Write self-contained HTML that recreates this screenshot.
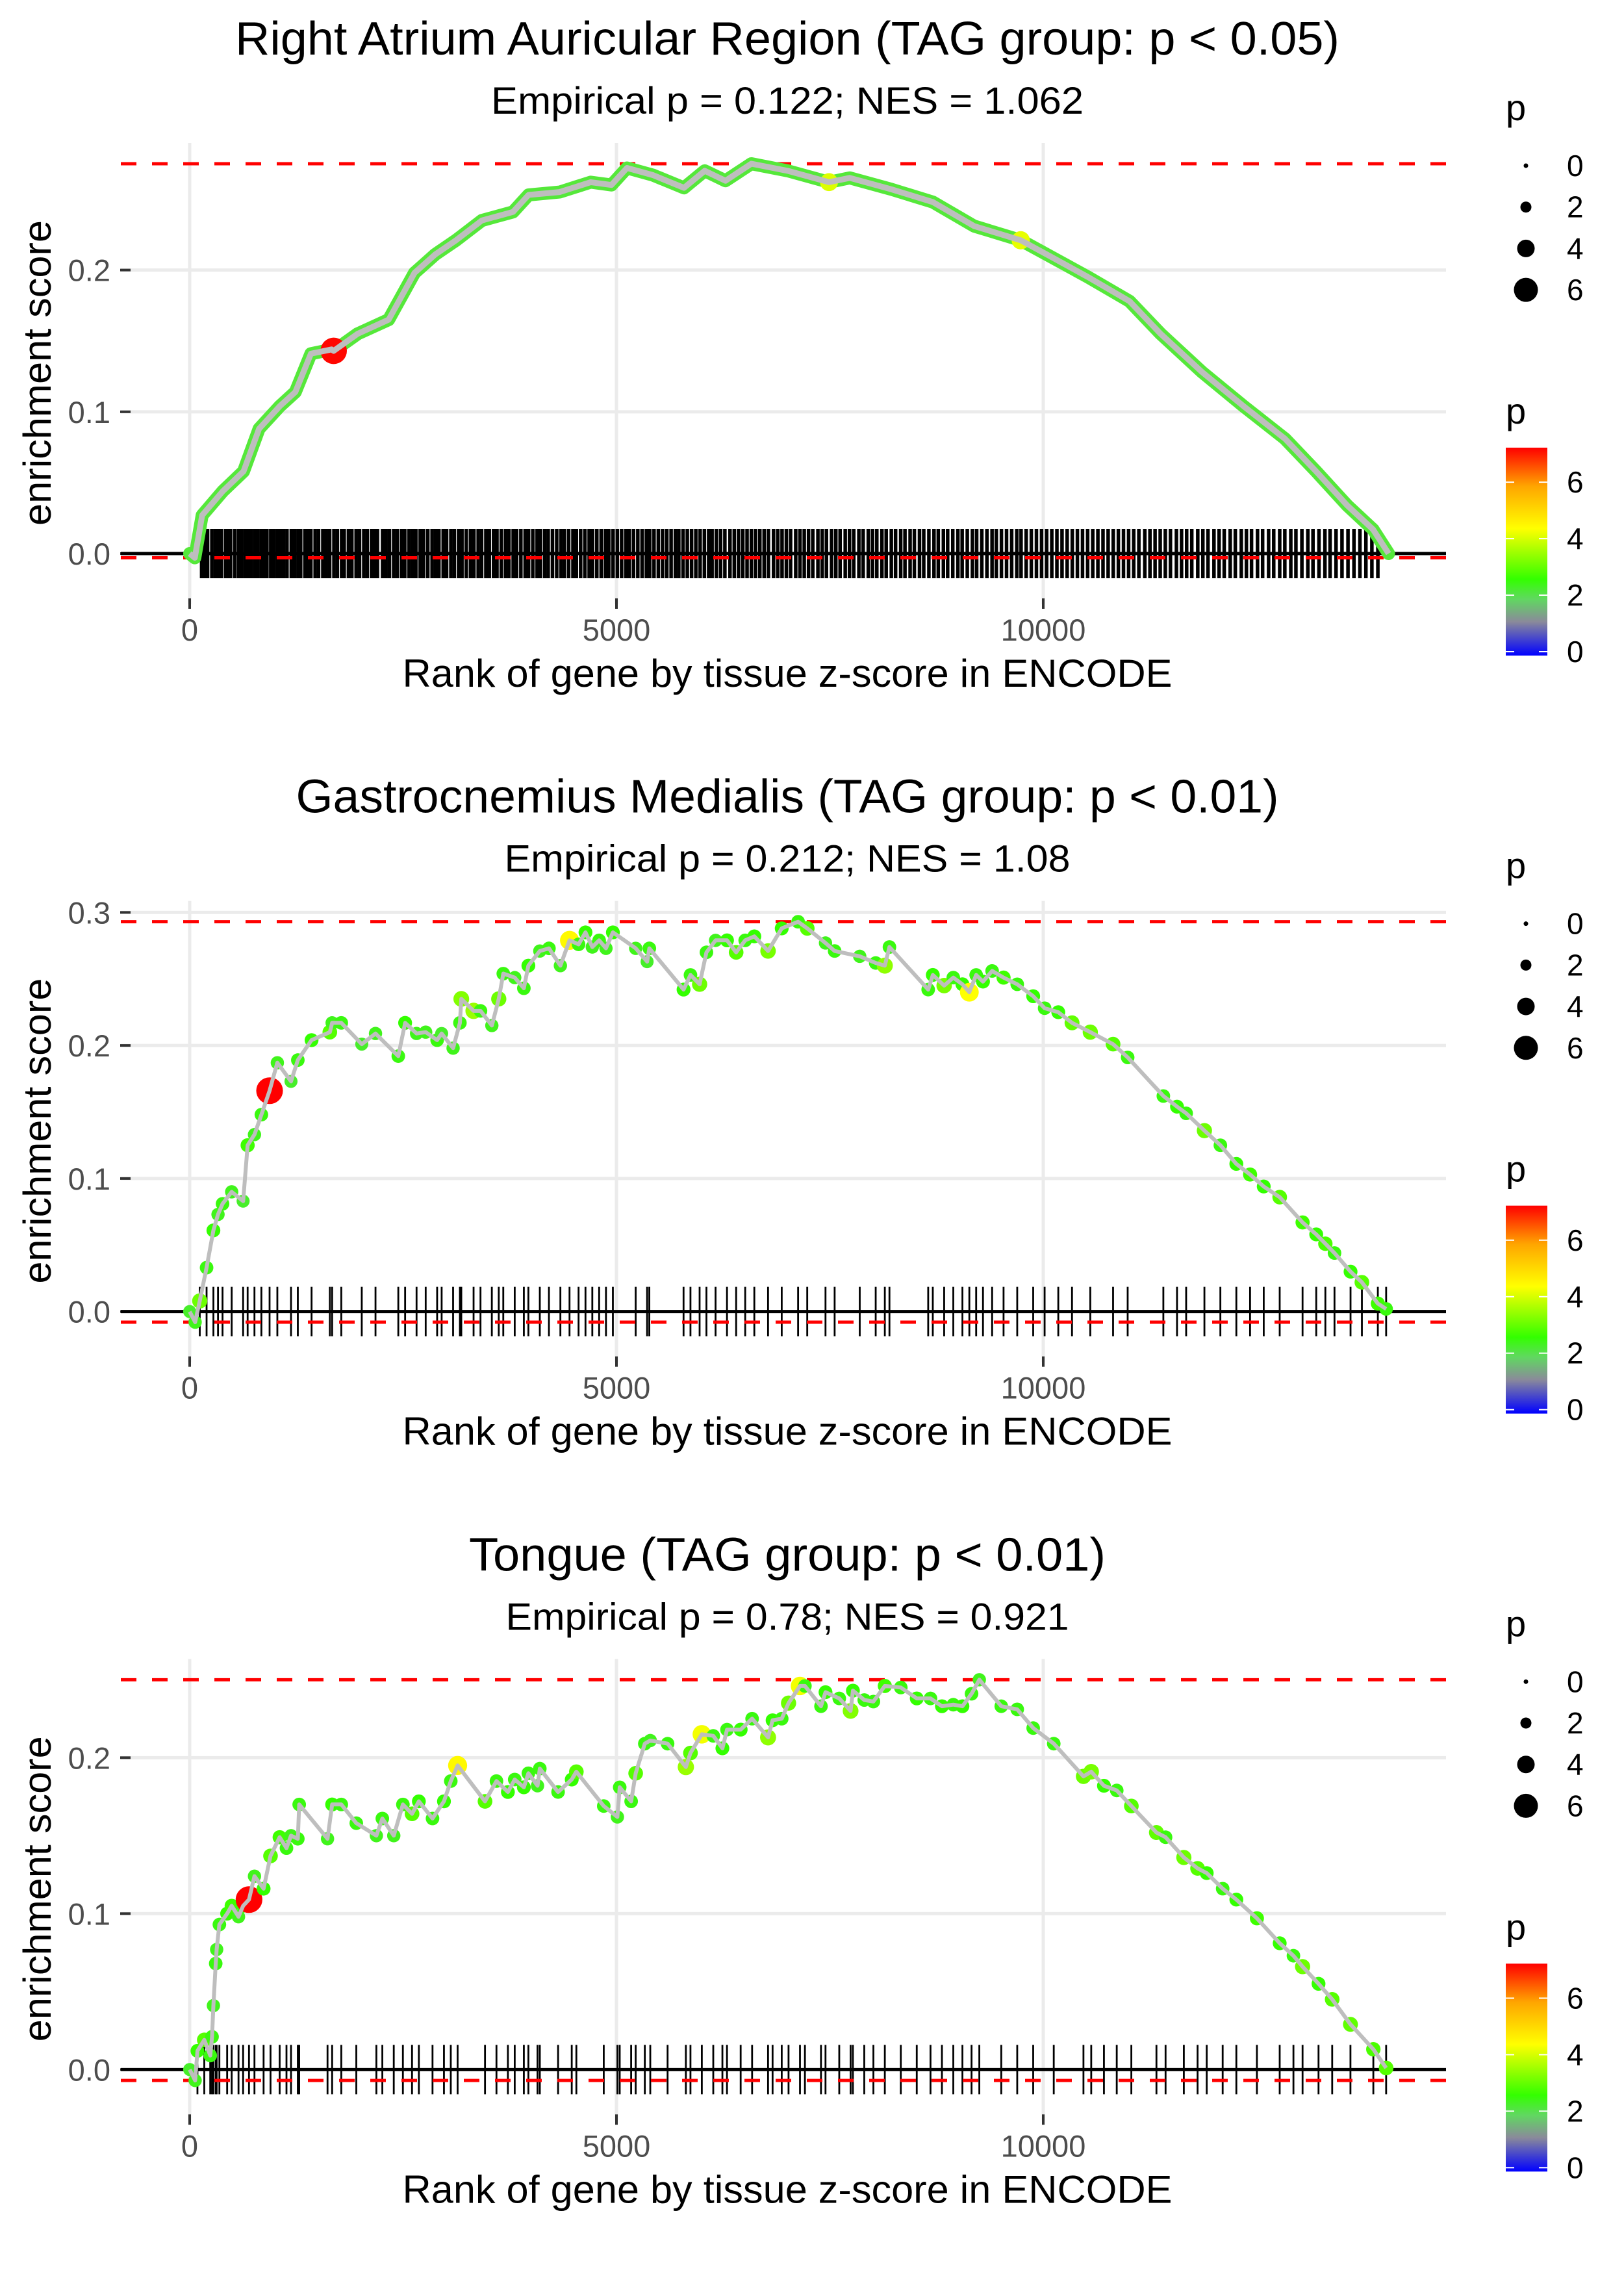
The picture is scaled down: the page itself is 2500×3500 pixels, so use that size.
<!DOCTYPE html>
<html><head><meta charset="utf-8">
<style>
html,body{margin:0;padding:0;background:#fff;}
svg{display:block;font-family:"Liberation Sans",Arial,sans-serif;}
</style></head>
<body>
<svg id="chart" width="2500" height="3500" viewBox="0 0 2500 3500" xmlns="http://www.w3.org/2000/svg">
<defs>
<linearGradient id="pgrad" x1="0" y1="1" x2="0" y2="0"></linearGradient>
</defs>
</svg>
<script>
// ---------- data ----------
const titles = ["Right Atrium Auricular Region (TAG group: p < 0.05)","Gastrocnemius Medialis (TAG group: p < 0.01)","Tongue (TAG group: p < 0.01)"];
const subtitles = ["Empirical p = 0.122; NES = 1.062","Empirical p = 0.212; NES = 1.08","Empirical p = 0.78; NES = 0.921"];
const xTicks = [0,5000,10000];
const xTickLabels = ["0","5000","10000"];
const yTicks1 = [0,0.1,0.2];
const yTicks2 = [0,0.1,0.2,0.3];
const yTicks3 = [0,0.1,0.2];
const yTickLabels1 = ["0.0","0.1","0.2"];
const yTickLabels2 = ["0.0","0.1","0.2","0.3"];
const yTickLabels3 = ["0.0","0.1","0.2"];
const sizeLegendValues = [0,2,4,6];
const colorLegendValues = [0,2,4,6];

const rank1 = [0,60,146,388,631,813,1056,1238,1420,1663,1687,1967,2331,2634,2877,3120,3423,3788,3970,4334,4698,4941,5123,5427,5791,6034,6277,6580,7005,7490,7733,8219,8705,9190,9736,10040,10525,11011,11375,11861,12346,12832,13196,13560,13864,14046];
const es1 = [0,-0.003,0.027,0.044,0.058,0.088,0.104,0.114,0.141,0.144,0.143,0.155,0.165,0.198,0.211,0.221,0.235,0.241,0.253,0.255,0.262,0.260,0.272,0.267,0.258,0.270,0.263,0.275,0.270,0.262,0.265,0.257,0.248,0.231,0.221,0.211,0.195,0.178,0.155,0.128,0.104,0.081,0.058,0.034,0.017,0];
const p1 = [2.5,2.5,2.6,2.6,2.5,2.7,2.6,2.5,2.7,2.6,7.3,2.6,2.7,2.5,2.7,3.2,2.6,2.7,2.6,2.5,2.7,2.6,2.8,2.6,2.7,2.6,2.8,2.7,2.6,4.2,2.6,2.7,2.6,2.7,4.3,2.6,2.7,2.6,3.4,2.7,2.6,2.6,2.7,3.2,2.6,2.5];
const rug1 = [140,175,210,260,300,330,370,420,455,480,530,575,610,650,690,720,760,800,840,870,905,950,990,1030,1060,1100,1140,1190,1230,1270,1300,1350,1390,1420,1470,1510,1560,1600,1640,1690,1730,1780,1810,1860,1900,1950,1990,2040,2080,2130,2170,2200,2260,2300,2340,2390,2430,2480,2520,2570,2610,2650,2700,2740,2790,2840,2880,2920,2970,3010,3060,3100,3150,3190,3240,3290,3330,3380,3420,3470,3510,3560,3600,3650,3700,3740,3790,3830,3880,3930,3970,4020,4070,4110,4160,4200,4250,4300,4350,4390,4440,4490,4530,4580,4630,4680,4720,4770,4820,4870,4910,4960,5010,5060,5110,5150,5200,5250,5300,5350,5390,5440,5490,5540,5590,5640,5690,5730,5780,5830,5880,5930,5980,6030,6080,6120,6170,6220,6270,6330,6380,6430,6480,6530,6580,6630,6680,6730,6780,6840,6890,6940,6990,7040,7100,7150,7200,7250,7300,7360,7410,7460,7520,7570,7620,7680,7730,7780,7840,7890,7950,8000,8050,8110,8160,8220,8270,8330,8380,8440,8490,8550,8600,8660,8720,8770,8830,8880,8940,9000,9050,9110,9170,9220,9280,9340,9400,9450,9510,9570,9630,9690,9740,9800,9860,9920,9980,10040,10100,10160,10220,10280,10340,10400,10460,10520,10580,10640,10700,10760,10820,10880,10940,11000,11060,11120,11190,11250,11310,11370,11430,11490,11560,11620,11680,11740,11810,11870,11930,12000,12060,12120,12190,12250,12320,12380,12440,12510,12570,12640,12700,12770,12830,12900,12960,13030,13100,13160,13230,13300,13360,13430,13500,13570,13640,13710,13780,13850,13920];

const rank2 = [0,64,118,198,278,332,385,492,626,679,759,840,936,1027,1187,1267,1428,1642,1669,1776,2016,2177,2444,2524,2658,2765,2899,2952,3086,3166,3182,3326,3407,3540,3621,3674,3808,3915,3968,4102,4209,4343,4450,4556,4637,4717,4797,4877,4958,5225,5359,5385,5786,5867,5974,6054,6161,6295,6402,6508,6615,6776,6936,7128,7235,7449,7556,7850,8037,8144,8198,8652,8706,8839,8946,9053,9134,9214,9294,9401,9535,9695,9882,10016,10176,10337,10551,10818,10989,11407,11567,11674,11888,12075,12262,12423,12583,12770,13038,13198,13305,13412,13600,13733,13920,14017];
const es2 = [0,-0.008,0.008,0.033,0.061,0.073,0.081,0.090,0.083,0.125,0.133,0.148,0.166,0.187,0.173,0.189,0.204,0.210,0.217,0.217,0.201,0.209,0.192,0.217,0.209,0.210,0.204,0.209,0.198,0.217,0.235,0.226,0.226,0.215,0.235,0.254,0.251,0.243,0.260,0.271,0.273,0.260,0.279,0.276,0.285,0.274,0.279,0.273,0.285,0.273,0.263,0.273,0.242,0.253,0.246,0.270,0.279,0.279,0.270,0.279,0.282,0.271,0.288,0.293,0.288,0.277,0.271,0.267,0.262,0.260,0.274,0.242,0.253,0.245,0.251,0.246,0.240,0.253,0.248,0.256,0.251,0.246,0.237,0.228,0.225,0.217,0.210,0.201,0.191,0.162,0.154,0.149,0.136,0.125,0.111,0.103,0.094,0.086,0.067,0.058,0.051,0.044,0.030,0.022,0.006,0.002];
const p2 = [2.4,2.5,3.2,2.6,2.7,2.5,2.6,2.5,2.4,2.8,2.5,2.6,7.4,2.5,2.4,2.6,2.7,3.0,2.5,2.6,2.4,2.5,2.6,2.7,2.5,2.5,2.6,2.4,2.5,2.6,3.4,3.6,2.6,2.5,3.2,2.6,2.5,2.6,2.7,2.5,2.6,2.5,4.6,2.6,2.7,2.5,2.6,2.5,2.7,2.5,2.4,2.6,2.7,2.6,3.2,2.6,2.5,2.7,3.0,2.6,2.7,3.3,2.7,2.6,3.0,2.5,2.6,2.5,2.6,3.5,2.6,2.6,2.7,3.3,2.6,2.7,4.5,2.6,2.7,2.6,2.8,2.6,2.7,2.6,2.7,3.1,3.2,3.0,2.6,2.6,2.7,2.6,3.2,2.6,2.7,2.8,2.7,3.0,2.8,2.7,2.9,2.6,2.7,3.0,2.8,2.6];
const rug2 = rank2.slice(2);

const rank3 = [0,64,91,171,241,262,278,305,316,348,439,492,572,626,695,759,866,947,1054,1134,1187,1267,1283,1615,1669,1776,1952,2187,2257,2391,2498,2605,2685,2845,2979,3059,3139,3460,3594,3728,3808,3915,3968,4075,4102,4316,4476,4530,4851,5011,5038,5172,5225,5332,5396,5599,5813,5867,6000,6134,6241,6295,6455,6589,6776,6829,6936,7016,7150,7208,7396,7449,7610,7743,7770,7903,8010,8144,8331,8518,8679,8813,8946,9053,9160,9251,9508,9695,9882,10123,10471,10562,10711,10861,11032,11326,11433,11647,11808,11915,12102,12262,12503,12770,12931,13038,13225,13385,13599,13867,14017];
const es3 = [0,-0.007,0.012,0.019,0.009,0.021,0.041,0.068,0.077,0.093,0.100,0.105,0.098,0.105,0.109,0.124,0.116,0.137,0.149,0.142,0.150,0.148,0.170,0.148,0.170,0.170,0.158,0.150,0.161,0.150,0.170,0.164,0.172,0.161,0.172,0.185,0.195,0.172,0.185,0.178,0.186,0.181,0.190,0.182,0.193,0.178,0.186,0.191,0.169,0.162,0.181,0.172,0.190,0.209,0.211,0.209,0.194,0.203,0.215,0.214,0.206,0.218,0.218,0.225,0.213,0.224,0.225,0.235,0.246,0.246,0.233,0.242,0.238,0.230,0.243,0.237,0.236,0.246,0.245,0.238,0.238,0.233,0.234,0.233,0.241,0.250,0.233,0.231,0.219,0.209,0.188,0.191,0.182,0.179,0.169,0.152,0.149,0.136,0.129,0.126,0.116,0.109,0.097,0.081,0.073,0.066,0.055,0.045,0.029,0.013,0.001];
const p3 = [2.4,2.5,2.7,3.0,2.6,2.6,2.5,2.6,2.5,2.6,2.7,2.8,2.5,2.6,7.4,2.5,2.7,3.0,2.8,2.6,2.5,2.6,2.6,2.5,2.7,2.6,2.6,2.5,2.6,2.5,2.6,3.0,2.7,2.6,2.7,2.6,4.6,3.0,2.6,2.7,2.6,2.7,2.6,2.5,2.6,2.6,2.7,3.0,2.6,2.5,2.6,2.6,3.0,2.6,2.5,2.6,3.6,3.0,4.4,2.6,2.7,2.6,2.7,2.6,3.5,2.7,2.6,3.2,4.4,2.6,2.6,2.7,2.6,3.4,2.7,2.6,2.6,2.8,2.6,2.7,2.6,2.7,2.6,2.7,2.6,2.5,2.6,2.6,2.6,2.6,3.2,3.3,2.7,2.6,3.0,3.1,2.6,3.2,3.0,2.7,2.6,2.7,2.8,2.7,2.6,3.2,2.7,3.0,3.1,2.9,3.0];
const rug3 = rank3.slice(2);

// ---------- layout ----------
const svg = document.getElementById('chart');
const NS = 'http://www.w3.org/2000/svg';
const PX0 = 186, PX1 = 2226;
const X0 = 292, PXPER = 657/5000;
const titleLen = [1700, 1513, 980];
const subLen = [912, 871, 867];
function xScale(r){ return X0 + r*PXPER; }
function mk(tag, attrs, parent){
  const e = document.createElementNS(NS, tag);
  for (const k in attrs) e.setAttribute(k, attrs[k]);
  (parent||svg).appendChild(e);
  return e;
}
const cStops = [[0,[0,0,255]],[1.2,[138,138,154]],[2.0,[96,216,96]],[2.7,[51,255,0]],[4.5,[255,255,0]],[6.0,[255,165,0]],[7.36,[255,0,0]]];
function pColor(p){
  if (p <= cStops[0][0]) return 'rgb(0,0,255)';
  for (let i=1;i<cStops.length;i++){
    if (p <= cStops[i][0]){
      const a=cStops[i-1], b=cStops[i], t=(p-a[0])/(b[0]-a[0]);
      const c=a[1].map((v,j)=>Math.round(v+(b[1][j]-v)*t));
      return 'rgb('+c.join(',')+')';
    }
  }
  return 'rgb(255,0,0)';
}
function pDiam(p){ return 10 + 4.2*p; }

const grad = document.getElementById('pgrad');
for (const s of cStops){
  const st = document.createElementNS(NS,'stop');
  st.setAttribute('offset', (s[0]/7.36*100)+'%');
  st.setAttribute('stop-color', 'rgb('+s[1].join(',')+')');
  grad.appendChild(st);
}

const panels = [
  {ranks:rank1, es:es1, p:p1, rug:rug1, yTicks:yTicks1, yLabels:yTickLabels1, dense:true},
  {ranks:rank2, es:es2, p:p2, rug:rug2, yTicks:yTicks2, yLabels:yTickLabels2, dense:false},
  {ranks:rank3, es:es3, p:p3, rug:rug3, yTicks:yTicks3, yLabels:yTickLabels3, dense:false}
];

panels.forEach((pn, i) => {
  const top = i*3500/3;
  const g = mk('g', {});
  
  
  const maxES = Math.max(...pn.es), minES = Math.min(...pn.es);
  const yScale = v => top + 852 - v/maxES*600;

  const t = mk('text', {x:1212, y:top+84, 'font-size':72, 'text-anchor':'middle', fill:'#000', textLength:titleLen[i], lengthAdjust:'spacingAndGlyphs'}, g);
  t.textContent = titles[i];
  
  
  const st = mk('text', {x:1212, y:top+175, 'font-size':58, 'text-anchor':'middle', fill:'#000', textLength:subLen[i], lengthAdjust:'spacingAndGlyphs'}, g);
  st.textContent = subtitles[i];
  
  

  pn.yTicks.forEach((v, k) => {
    const gl = mk('line', {x1:PX0, x2:PX1, y1:yScale(v), y2:yScale(v), stroke:'#ebebeb', 'stroke-width':5}, g);
    
    
    const tk = mk('line', {x1:185, x2:201, y1:yScale(v), y2:yScale(v), stroke:'#333', 'stroke-width':4}, g);
    
    
    const tl = mk('text', {x:170, y:yScale(v)+17, 'font-size':47, 'text-anchor':'end', fill:'#4d4d4d'}, g);
    tl.textContent = pn.yLabels[k];
    
    
  });
  xTicks.forEach((v, k) => {
    const gl = mk('line', {x1:xScale(v), x2:xScale(v), y1:top+220, y2:top+930, stroke:'#ebebeb', 'stroke-width':5}, g);
    
    
    const tk = mk('line', {x1:xScale(v), x2:xScale(v), y1:top+921, y2:top+937, stroke:'#333', 'stroke-width':4}, g);
    
    
    const tl = mk('text', {x:xScale(v), y:top+986, 'font-size':47, 'text-anchor':'middle', fill:'#4d4d4d'}, g);
    tl.textContent = xTickLabels[k];
    
    
  });

  const xt = mk('text', {x:1212, y:top+1057, 'font-size':60, 'text-anchor':'middle', fill:'#000', textLength:1185, lengthAdjust:'spacingAndGlyphs'}, g);
  xt.textContent = 'Rank of gene by tissue z-score in ENCODE';
  
  
  const yt = mk('text', {x:0, y:0, 'font-size':60, 'text-anchor':'middle', fill:'#000', textLength:470, lengthAdjust:'spacingAndGlyphs', transform:'translate(78,'+(top+574)+') rotate(-90)'}, g);
  yt.textContent = 'enrichment score';
  
  

  const rugG = mk('g', {}, g);
  
  
  pn.rug.forEach(r => {
    const l = mk('line', {x1:xScale(r), x2:xScale(r), y1:top+814, y2:top+890, stroke:'#000', 'stroke-width': pn.dense ? 5.5 : 2.8}, rugG);
    
    
  });

  const zl = mk('line', {x1:PX0, x2:PX1, y1:yScale(0), y2:yScale(0), stroke:'#000', 'stroke-width':5}, g);
  
  
  const dm = mk('line', {x1:PX0, x2:PX1, y1:yScale(maxES), y2:yScale(maxES), stroke:'#ff0000', 'stroke-width':5, 'stroke-dasharray':'24 24'}, g);
  
  
  const dn = mk('line', {x1:PX0, x2:PX1, y1:yScale(minES), y2:yScale(minES), stroke:'#ff0000', 'stroke-width':5, 'stroke-dasharray':'24 24'}, g);
  
  

  const pts = pn.ranks.map((r, k) => xScale(r).toFixed(1)+','+yScale(pn.es[k]).toFixed(1)).join(' ');
  if (pn.dense){
    const band = mk('polyline', {points:pts, fill:'none', stroke:'#55e83a', 'stroke-width':20, 'stroke-linejoin':'round', 'stroke-linecap':'round'}, g);
    
    
  }
  const ptG = mk('g', {}, g);
  
  
  pn.ranks.forEach((r, k) => {
    const pv = pn.p[k];
    if (pn.dense && pv < 4) return;
    const c = mk('circle', {cx:xScale(r), cy:yScale(pn.es[k]), r:pDiam(pv)/2, fill:pColor(pv)}, ptG);
    
    
  });
  const ln = mk('polyline', {points:pts, fill:'none', stroke:'#bebebe', 'stroke-width': pn.dense ? 9 : 6, 'stroke-linejoin':'round'}, g);
  
  

  const sl = mk('g', {}, g);
  
  
  const slt = mk('text', {x:2318, y:top+185, 'font-size':56, fill:'#000'}, sl);
  slt.textContent = 'p';
  
  
  sizeLegendValues.forEach((v, k) => {
    const cy = top + 255 + k*63.7;
    const c = mk('circle', {cx:2349, cy:cy, r:(7+5*v)/2, fill:'#000'}, sl);
    
    
    const tx = mk('text', {x:2412, y:cy+16, 'font-size':46, fill:'#000'}, sl);
    tx.textContent = String(v);
    
    
  });

  const cl = mk('g', {}, g);
  
  
  const clt = mk('text', {x:2318, y:top+652, 'font-size':56, fill:'#000'}, cl);
  clt.textContent = 'p';
  
  
  const barTop = top+689, barBot = top+1009;
  const cb = mk('rect', {x:2318, y:barTop, width:64, height:barBot-barTop, fill:'url(#pgrad)'}, cl);
  
  
  colorLegendValues.forEach(v => {
    const yy = barBot - v/7.36*(barBot-barTop) - 6;
    const a = mk('line', {x1:2318, x2:2331, y1:yy, y2:yy, stroke:'#fff', 'stroke-width':2}, cl);
    
    
    const b = mk('line', {x1:2369, x2:2382, y1:yy, y2:yy, stroke:'#fff', 'stroke-width':2}, cl);
    
    
    const tx = mk('text', {x:2412, y:yy+16, 'font-size':46, fill:'#000'}, cl);
    tx.textContent = String(v);
    
    
  });
});
</script>
</body></html>
